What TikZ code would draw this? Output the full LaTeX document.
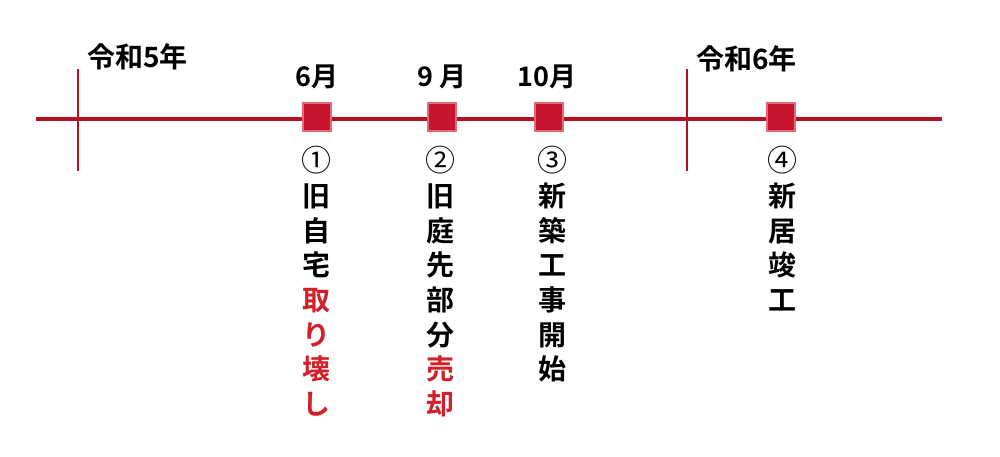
\documentclass[tikz,border=0pt]{standalone}
\usepackage{fontspec}
\setmainfont{Noto Sans CJK JP}[BoldFont={Noto Sans CJK JP Bold}]
\definecolor{linered}{HTML}{B3121F}
\definecolor{boxred}{HTML}{C8142E}
\definecolor{boxedge}{HTML}{E36A78}
\definecolor{textred}{HTML}{D1202A}
\newcommand{\circnum}[1]{{\mdseries\fontsize{15}{17.3}\selectfont #1}}
\tikzset{
  monthbox/.style={draw=boxedge, line width=0.6pt, fill=boxred, minimum size=14pt, inner sep=0pt},
  yearlabel/.style={font=\fontsize{14}{14}\selectfont\bfseries, anchor=west},
  monthlabel/.style={font=\fontsize{13.5}{13.5}\selectfont\bfseries},
  vlabel/.style={font=\fontsize{14}{17.35}\selectfont\bfseries, align=center, anchor=north, inner sep=0pt}
}
\begin{document}
\begin{tikzpicture}[x=0.5pt, y=-0.5pt]
    \useasboundingbox (0,0) rectangle (1000,456);
    % Time axis
    \coordinate (start) at (36,119);
    \coordinate (end) at (942,119);
    \draw[linered, line width=1.6pt] (start) -- (end);
    
    % Year ticks
    \coordinate (y5top) at (78,69);
    \coordinate (y5bot) at (78,171);
    \coordinate (y6top) at (687,69);
    \coordinate (y6bot) at (687,171);
    \draw[linered, line width=0.9pt] (y5top) -- (y5bot);
    \draw[linered, line width=0.9pt] (y6top) -- (y6bot);
    \node[yearlabel] (r5) at (80,57) {令和5年};
    \node[yearlabel] (r6) at (689,59) {令和6年};
    
    % Events
    \node[monthbox] (m6) at (317,117) {};
    \node[monthbox] (m9) at (442,117) {};
    \node[monthbox] (m10) at (549,117) {};
    \node[monthbox] (m4) at (781,117) {};
    \node[monthlabel] (t6) at (317,77) {6月};
    \node[monthlabel] (t9) at (442,77) {9 月};
    \node[monthlabel] (t10) at (547,77) {10月};
    
    % Descriptions
    \node[vlabel] (d1) at (316,146) {\circnum{①}\\旧\\自\\宅\\\textcolor{textred}{取}\\\textcolor{textred}{り}\\\textcolor{textred}{壊}\\\textcolor{textred}{し}};
    \node[vlabel] (d2) at (440,146) {\circnum{②}\\旧\\庭\\先\\部\\分\\\textcolor{textred}{売}\\\textcolor{textred}{却}};
    \node[vlabel] (d3) at (552,146) {\circnum{③}\\新\\築\\工\\事\\開\\始};
    \node[vlabel] (d4) at (782,146) {\circnum{④}\\新\\居\\竣\\工};
\end{tikzpicture}
\end{document}
